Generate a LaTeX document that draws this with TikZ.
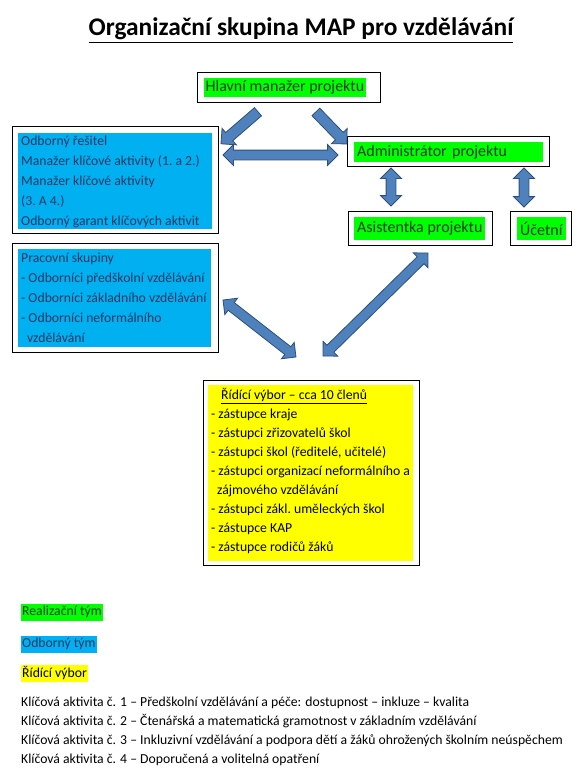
\documentclass[tikz,border=0pt]{standalone}
\usepackage{fontspec}
\setmainfont{Carlito}
\usepackage{tikz}
\usepackage{xcolor}
\definecolor{MapGreen}{HTML}{00FF00}
\definecolor{MapBlue}{HTML}{00B0F0}
\definecolor{MapYellow}{HTML}{FFFF00}
\definecolor{ArrowFill}{HTML}{4F81BD}
\definecolor{ArrowEdge}{HTML}{2F4F7A}
\definecolor{BlueText}{HTML}{1F3864}
\definecolor{GreenText}{HTML}{143C14}
\usetikzlibrary{shapes.arrows, calc, fit}

% block arrow between two coordinates: #1 style, #2 name, #3 tail, #4 tip
\newcommand{\blockarrow}[4]{%
    \path let \p1 = ($(#4)-(#3)$), \n1 = {atan2(\y1,\x1)}, \n2 = {veclen(\x1,\y1)} in
        node[#1, rotate=\n1, minimum height=\n2] (#2) at ($(#3)!0.5!(#4)$) {};}

\begin{document}
\begin{tikzpicture}[x=1pt, y=-1pt,
    frame/.style={draw=black, line width=1pt, inner sep=0pt},
    shade/.style={inner sep=0pt},
    greenbox/.style={fill=MapGreen, text=GreenText, anchor=west, inner xsep=3pt, inner ysep=0pt,
        font=\fontsize{16}{19}\selectfont},
    listtext/.style={text=BlueText, anchor=north west, inner sep=0pt, align=left,
        font=\fontsize{13.7}{20}\selectfont\frenchspacing},
    legendmark/.style={anchor=west, inner xsep=1pt, inner ysep=0pt, minimum height=17pt,
        font=\fontsize{13.7}{16}\selectfont},
    sarrow/.style={single arrow, draw=ArrowEdge, fill=ArrowFill, line width=0.8pt,
        inner xsep=0pt, inner ysep=5pt, single arrow head extend=5.5pt},
    darrow/.style={double arrow, draw=ArrowEdge, fill=ArrowFill, line width=0.8pt,
        inner xsep=0pt, inner ysep=4.5pt, double arrow head extend=5.5pt},
]
    \path[use as bounding box, fill=white] (0,0) rectangle (586,781);

    % Title
    \node[anchor=base, inner sep=0pt, font=\fontsize{25.4}{30}\selectfont\bfseries] (title) at (301,36)
        {\underline{Organizační skupina MAP pro vzdělávání}};

    % Realization team
    \node[greenbox, minimum height=19pt, inner xsep=1.5pt] (hlavni) at (204,87.5) {Hlavní manažer projektu};
    \node[frame, fit={(197,73) (380,103)}] (hlavniF) {};
    \node[greenbox, minimum height=20pt, text width=183pt, align=left] (admin) at (354,152) {Administrátor projektu};
    \node[frame, fit={(347,136) (549,166)}] (adminF) {};
    \node[greenbox, minimum height=23pt] (asist) at (354,228.5) {Asistentka projektu};
    \node[frame, fit={(348,211) (492,245)}] (asistF) {};
    \node[greenbox, minimum height=23pt] (ucetni) at (517,228.5) {Účetní};
    \node[frame, fit={(510,211) (571,245)}] (ucetniF) {};

    % Expert team
    \node[shade, fill=MapBlue, fit={(18,133) (212,229)}] (odbornyBg) {};
    \node[listtext] (odborny) at (21,136)
        {Odborný řešitel\\
         Manažer klíčové aktivity (1. a 2.)\\
         Manažer klíčové aktivity\\
         (3. A 4.)\\
         Odborný garant klíčových aktivit};
    \node[frame, fit={(12,127) (218,233)}] (odbornyF) {};
    \node[shade, fill=MapBlue, fit={(18,249) (211,347)}] (pracovniBg) {};
    \node[listtext] (pracovni) at (21,253)
        {Pracovní skupiny\\
         - Odborníci předškolní vzdělávání\\
         - Odborníci základního vzdělávání\\
         - Odborníci neformálního\\
         \hspace*{6pt}vzdělávání};
    \node[frame, fit={(12,243) (218,352)}] (pracovniF) {};

    % Steering committee
    \node[shade, fill=MapYellow, fit={(208,385) (413,561)}] (ridiciBg) {};
    \node[listtext, text=black, font=\fontsize{13.7}{19}\selectfont\frenchspacing] (ridici) at (211,388)
        {\hspace*{10pt}\underline{Řídící výbor – cca 10 členů}\\
         - zástupce kraje\\
         - zástupci zřizovatelů škol\\
         - zástupci škol (ředitelé, učitelé)\\
         - zástupci organizací neformálního a\\
         \hspace*{6pt}zájmového vzdělávání\\
         - zástupci zákl. uměleckých škol\\
         - zástupce KAP\\
         - zástupce rodičů žáků};
    \node[frame, fit={(203,380) (419,565)}] (ridiciF) {};

    % Arrow ends
    \coordinate (hlL) at (260,110);
    \coordinate (odbT) at (223,142);
    \coordinate (hlR) at (314,110);
    \coordinate (admT) at (345,142);
    \coordinate (odbR) at (223,155);
    \coordinate (admL) at (338,155);
    \coordinate (admB1) at (391,168);
    \coordinate (asiT) at (391,206);
    \coordinate (admB2) at (524,168);
    \coordinate (ucT) at (524,207);
    \coordinate (praR) at (223,300);
    \coordinate (ridL) at (296,357);
    \coordinate (ridR) at (323,356);
    \coordinate (asiB) at (428,253);

    \blockarrow{sarrow}{arrLeft}{hlL}{odbT}
    \blockarrow{sarrow}{arrRight}{hlR}{admT}
    \blockarrow{darrow}{arrMid}{odbR}{admL}
    \blockarrow{darrow}{arrAsist}{admB1}{asiT}
    \blockarrow{darrow}{arrUcet}{admB2}{ucT}
    \blockarrow{darrow}{arrPrac}{praR}{ridL}
    \blockarrow{darrow}{arrRid}{ridR}{asiB}

    % Legend
    \node[legendmark, fill=MapGreen, text=GreenText] (legReal) at (21,612) {Realizační tým};
    \node[legendmark, fill=MapBlue, text=BlueText] (legOdb) at (21,644) {Odborný tým};
    \node[legendmark, fill=MapYellow] (legRid) at (21,673) {Řídící výbor};

    \node[anchor=base west, inner sep=0pt, font=\fontsize{13.7}{16}\selectfont] (ka1) at (21,706)
        {Klíčová aktivita č. 1 – Předškolní vzdělávání a péče: dostupnost – inkluze – kvalita};
    \node[anchor=base west, inner sep=0pt, font=\fontsize{13.7}{16}\selectfont] (ka2) at (21,725)
        {Klíčová aktivita č. 2 – Čtenářská a matematická gramotnost v základním vzdělávání};
    \node[anchor=base west, inner sep=0pt, font=\fontsize{13.7}{16}\selectfont] (ka3) at (21,744)
        {Klíčová aktivita č. 3 – Inkluzivní vzdělávání a podpora dětí a žáků ohrožených školním neúspěchem};
    \node[anchor=base west, inner sep=0pt, font=\fontsize{13.7}{16}\selectfont] (ka4) at (21,763)
        {Klíčová aktivita č. 4 – Doporučená a volitelná opatření};
\end{tikzpicture}
\end{document}
